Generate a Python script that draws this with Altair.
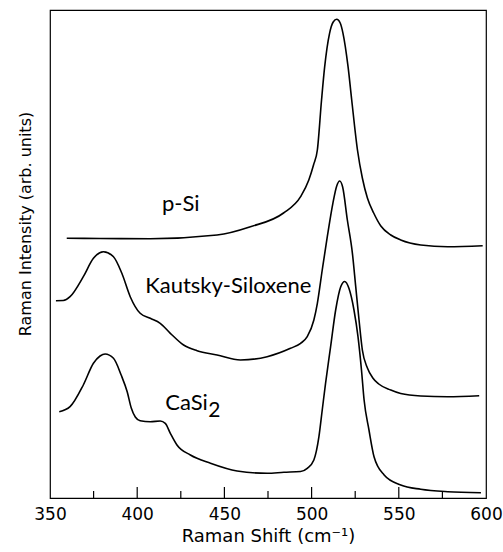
import altair as alt
import pandas as pd

# Raman spectra (shift in cm^-1, intensity in arbitrary units, curves stacked by offset)
psi_shift = [359.6, 378.7, 407.5, 445.8, 464.9, 483.9, 493.7, 498.4, 501.1, 503.3, 505.7,
             507.5, 510.3, 512.4, 514.4, 516.4, 518.0, 520.9, 523.0, 526.3, 529.1, 532.0,
             535.6, 539.7, 545.4, 551.1, 562.6, 578.0, 598.1]
psi_int = [259.7, 259.5, 259.3, 263.0, 271.3, 285.0, 301.3, 318.0, 333.0, 348.0, 398.0,
           431.3, 464.7, 476.0, 478.7, 475.0, 464.7, 431.3, 398.0, 348.0, 320.0, 300.0,
           285.0, 272.0, 263.0, 258.0, 253.0, 251.3, 252.3]

kaut_shift = [353.4, 357.6, 361.5, 369.1, 374.9, 380.6, 386.4, 391.2, 396.0, 401.7, 407.5,
              413.2, 419.0, 426.6, 434.3, 445.8, 459.2, 474.5, 487.9, 493.7, 497.5, 501.3,
              503.3, 506.1, 509.0, 512.2, 514.4, 516.1, 517.8, 520.5, 523.4, 525.3, 527.2,
              529.1, 532.0, 535.1, 538.5, 545.4, 551.1, 562.6, 578.0, 596.1]
kaut_int = [197.3, 197.5, 201.3, 221.3, 239.7, 246.3, 241.3, 224.7, 201.3, 184.7, 179.7,
            174.7, 164.7, 153.0, 147.3, 143.0, 138.0, 141.3, 149.7, 154.7, 161.3, 178.0,
            194.7, 228.0, 261.3, 294.7, 312.0, 317.0, 311.0, 278.0, 244.7, 211.3, 178.0,
            148.0, 130.0, 120.0, 114.0, 108.0, 104.5, 102.0, 101.3, 102.3]

casi_shift = [355.3, 361.5, 369.1, 374.9, 378.7, 381.6, 386.4, 390.8, 394.3, 396.6, 398.9,
              401.7, 407.5, 413.2, 416.1, 419.0, 422.8, 430.5, 442.0, 457.3, 474.5, 484.1,
              493.7, 497.5, 501.3, 504.2, 506.1, 508.0, 510.9, 513.8, 516.7, 519.0, 521.4,
              524.3, 526.6, 528.6, 530.1, 532.9, 535.8, 541.6, 551.1, 562.6, 578.0, 597.1]
casi_int = [86.3, 91.3, 113.0, 134.7, 142.0, 144.0, 139.7, 123.0, 106.0, 90.0, 81.0,
            77.3, 76.3, 77.0, 74.7, 64.7, 53.0, 43.0, 34.7, 27.0, 24.7, 25.7,
            26.5, 29.7, 38.0, 61.3, 88.0, 114.7, 151.3, 188.0, 211.3, 216.5, 209.7,
            188.0, 161.3, 128.0, 98.0, 68.0, 41.3, 23.0, 13.0, 8.7, 6.3, 5.3]

# Curve labels, anchored at their left baseline in data coordinates
label_text = ["p-Si", "Kautsky-Siloxene", "CaSi"]
label_shift = [414.2, 404.6, 416.1]
label_int = [287.3, 204.7, 88.0]
sub_text = ["2"]
sub_shift = [440.8]
sub_int = [81.5]

major_ticks = [400, 450, 500, 550]
minor_ticks = [375, 425, 475, 525, 575]
tick_labels = [350, 400, 450, 500, 550, 600]

rows = []
for name, xs, ys in [("p-Si", psi_shift, psi_int),
                     ("Kautsky-Siloxene", kaut_shift, kaut_int),
                     ("CaSi2", casi_shift, casi_int)]:
    for x, y in zip(xs, ys):
        rows.append({"series": name, "shift": x, "intensity": y})
spectra = pd.DataFrame(rows)

x_scale = alt.Scale(domain=[350, 600], nice=False, zero=False)
y_scale = alt.Scale(domain=[0, 488], nice=False, zero=False)

x_axis = alt.Axis(
    title="Raman Shift (cm⁻¹)", values=tick_labels, format="d",
    domain=False, ticks=False, tickSize=0, grid=False,
    labelFont="DejaVu Sans", labelFontSize=17, labelColor="black",
    labelBaseline="alphabetic", labelPadding=21, labelFlush=False, labelOverlap=False,
    titleFont="DejaVu Sans", titleFontSize=18, titleFontWeight="normal",
    titleColor="black", titleBaseline="alphabetic", titleY=43,
)
y_axis = alt.Axis(
    title="Raman Intensity (arb. units)", labels=False, ticks=False,
    domain=False, grid=False,
    titleFont="DejaVu Sans", titleFontSize=16, titleFontWeight="normal",
    titleColor="black", titleAngle=270, titleAlign="center",
    titleBaseline="alphabetic", titleX=-20, titleY=213.5,
)

X = alt.X("shift:Q", scale=x_scale, axis=x_axis)
Y = alt.Y("intensity:Q", scale=y_scale, axis=y_axis)

lines = alt.Chart(spectra).mark_line(
    color="black", strokeWidth=1.6, interpolate="monotone"
).encode(x=X, y=Y, detail="series:N")

# Inward bottom ticks: long at every 50 cm^-1, short in between
major = alt.Chart(pd.DataFrame({"shift": major_ticks})).mark_rule(
    color="black", strokeWidth=1.2
).encode(x=X, y=alt.value(488), y2=alt.value(477))

minor = alt.Chart(pd.DataFrame({"shift": minor_ticks})).mark_rule(
    color="black", strokeWidth=1.2
).encode(x=X, y=alt.value(488), y2=alt.value(481))

labels = alt.Chart(pd.DataFrame({
    "label": label_text, "shift": label_shift, "intensity": label_int
})).mark_text(
    align="left", baseline="alphabetic", font="Lato", fontSize=22, color="black"
).encode(x=X, y=Y, text="label:N")

subscript = alt.Chart(pd.DataFrame({
    "label": sub_text, "shift": sub_shift, "intensity": sub_int
})).mark_text(
    align="left", baseline="alphabetic", font="Lato", fontSize=21, color="black"
).encode(x=X, y=Y, text="label:N")

chart = alt.layer(lines, major, minor, labels, subscript).properties(
    width=436, height=488,
    padding={"left": 50, "top": 10, "right": 17, "bottom": 54},
    autosize=alt.AutoSizeParams(type="none"),
    background="white",
).configure_view(
    stroke="black", strokeWidth=1.2
)

chart.save("out.html", embed_options={"renderer": "svg", "actions": False})
